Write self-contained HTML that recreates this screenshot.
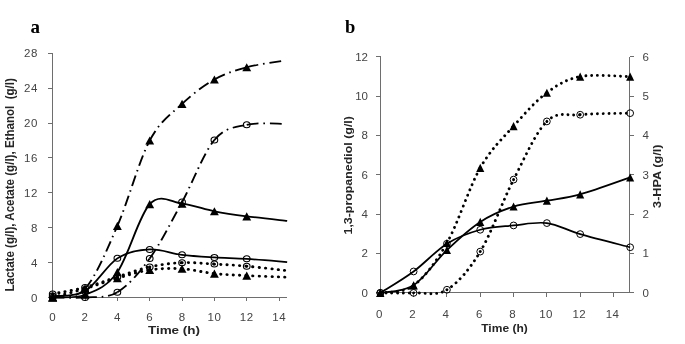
<!DOCTYPE html>
<html><head><meta charset="utf-8"><style>
html,body{margin:0;padding:0;background:#fff;}
body{width:685px;height:344px;overflow:hidden;}
svg{display:block;will-change:transform;}
</style></head><body>
<svg width="685" height="344" viewBox="0 0 685 344">
<rect width="685" height="344" fill="#fff"/>
<g stroke="#6e6e6e" stroke-width="1" fill="none" shape-rendering="crispEdges">
<path d="M52.5 53V297.5H287"/>
<path d="M48 297.5H52.5"/>
<path d="M48 262.5H52.5"/>
<path d="M48 227.5H52.5"/>
<path d="M48 192.5H52.5"/>
<path d="M48 157.5H52.5"/>
<path d="M48 123.5H52.5"/>
<path d="M48 88.5H52.5"/>
<path d="M48 53.5H52.5"/>
<path d="M52.5 297.5V301"/>
<path d="M85.5 297.5V301"/>
<path d="M117.5 297.5V301"/>
<path d="M149.5 297.5V301"/>
<path d="M182.5 297.5V301"/>
<path d="M214.5 297.5V301"/>
<path d="M246.5 297.5V301"/>
<path d="M279.5 297.5V301"/>
</g>
<g stroke="#6e6e6e" stroke-width="1" fill="none" shape-rendering="crispEdges">
<path d="M380.5 56.5V292.5H629.5V56.5"/>
<path d="M376 292.5H380.5"/>
<path d="M376 253.5H380.5"/>
<path d="M376 214.5H380.5"/>
<path d="M376 174.5H380.5"/>
<path d="M376 135.5H380.5"/>
<path d="M376 96.5H380.5"/>
<path d="M376 56.5H380.5"/>
<path d="M629.5 292.5H634"/>
<path d="M629.5 253.5H634"/>
<path d="M629.5 214.5H634"/>
<path d="M629.5 174.5H634"/>
<path d="M629.5 135.5H634"/>
<path d="M629.5 96.5H634"/>
<path d="M629.5 56.5H634"/>
<path d="M380.5 292.5V297"/>
<path d="M413.5 292.5V297"/>
<path d="M446.5 292.5V297"/>
<path d="M480.5 292.5V297"/>
<path d="M513.5 292.5V297"/>
<path d="M546.5 292.5V297"/>
<path d="M580.5 292.5V297"/>
<path d="M613.5 292.5V297"/>
</g>
<g transform="scale(1.0970 1)">
<path d="M48.04 297.40C52.95 295.95 67.69 300.60 77.52 288.68" stroke="#000" stroke-width="1.75" fill="none" stroke-dasharray="10.8 4.4 1.5 4.4"/>
<path d="M77.52 288.68C87.35 276.77 97.17 250.62 107.00 225.92" stroke="#000" stroke-width="1.75" fill="none" stroke-dasharray="10.8 4.4 1.5 4.4"/>
<path d="M107.00 225.92C116.83 201.22 126.65 160.83 136.48 140.49" stroke="#000" stroke-width="1.75" fill="none" stroke-dasharray="10.8 4.4 1.5 4.4"/>
<path d="M136.48 140.49C146.31 120.15 156.13 114.05 165.96 103.88" stroke="#000" stroke-width="1.75" fill="none" stroke-dasharray="10.8 4.4 1.5 4.4"/>
<path d="M165.96 103.88C175.79 93.71 185.62 85.58 195.44 79.47" stroke="#000" stroke-width="1.75" fill="none" stroke-dasharray="10.8 4.4 1.5 4.4"/>
<path d="M195.44 79.47C205.27 73.37 214.11 70.47 224.92 67.27" stroke="#000" stroke-width="1.75" fill="none" stroke-dasharray="10.8 4.4 1.5 4.4"/>
<path d="M224.92 67.27C235.73 64.07 254.40 61.46 260.30 60.30" stroke="#000" stroke-width="1.75" fill="none" stroke-dasharray="10.8 4.4 1.5 4.4"/>
<path d="M48.04 297.40C52.95 297.40 67.69 298.27 77.52 297.40" stroke="#000" stroke-width="1.75" fill="none" stroke-dasharray="10.8 4.4 1.5 4.4"/>
<path d="M77.52 297.40C87.35 296.53 97.17 298.66 107.00 292.17" stroke="#000" stroke-width="1.75" fill="none" stroke-dasharray="10.8 4.4 1.5 4.4"/>
<path d="M107.00 292.17C116.83 285.68 126.65 273.46 136.48 258.44" stroke="#000" stroke-width="1.75" fill="none" stroke-dasharray="10.8 4.4 1.5 4.4"/>
<path d="M136.48 258.44C146.31 243.41 156.13 221.78 165.96 202.04" stroke="#000" stroke-width="1.75" fill="none" stroke-dasharray="10.8 4.4 1.5 4.4"/>
<path d="M165.96 202.04C175.79 182.29 185.62 152.84 195.44 139.97" stroke="#000" stroke-width="1.75" fill="none" stroke-dasharray="10.8 4.4 1.5 4.4"/>
<path d="M195.44 139.97C205.27 127.10 214.11 127.48 224.92 124.80" stroke="#000" stroke-width="1.75" fill="none" stroke-dasharray="10.8 4.4 1.5 4.4"/>
<path d="M224.92 124.80C235.73 122.13 254.40 124.08 260.30 123.93" stroke="#000" stroke-width="1.75" fill="none" stroke-dasharray="10.8 4.4 1.5 4.4"/>
<path d="M48.04 297.40 C52.95 296.96 67.69 299.00 77.52 294.78 C87.35 290.57 97.17 287.23 107.00 272.12 C116.83 257.01 126.65 215.55 136.48 204.13 C146.31 192.71 156.13 202.41 165.96 203.61 C175.79 204.80 185.62 209.15 195.44 211.28 C205.27 213.40 213.87 214.73 224.92 216.33 C235.98 217.93 255.63 220.11 261.77 220.86" stroke="#000" stroke-width="1.75" fill="none"/>
<path d="M48.04 296.09 C52.95 295.29 67.69 297.59 77.52 291.30 C87.35 285.01 97.17 265.32 107.00 258.35 C116.83 251.37 126.65 250.04 136.48 249.46 C146.31 248.88 156.13 253.54 165.96 254.86 C175.79 256.18 185.62 256.72 195.44 257.39 C205.27 258.06 213.87 258.10 224.92 258.87 C235.98 259.64 255.63 261.49 261.77 262.01" stroke="#000" stroke-width="1.75" fill="none"/>
<path d="M48.04 293.91C52.95 292.82 67.69 290.21 77.52 287.38" stroke="#000" stroke-width="2.90" fill="none" stroke-linecap="round" stroke-dasharray="0.01 5.76"/>
<path d="M77.52 287.38C87.35 284.54 97.17 280.33 107.00 276.92" stroke="#000" stroke-width="2.90" fill="none" stroke-linecap="round" stroke-dasharray="0.01 5.76"/>
<path d="M107.00 276.92C116.83 273.50 126.65 269.26 136.48 266.89" stroke="#000" stroke-width="2.90" fill="none" stroke-linecap="round" stroke-dasharray="0.01 5.76"/>
<path d="M136.48 266.89C146.31 264.52 156.13 263.17 165.96 262.71" stroke="#000" stroke-width="2.90" fill="none" stroke-linecap="round" stroke-dasharray="0.01 5.76"/>
<path d="M165.96 262.71C175.79 262.24 185.62 263.52 195.44 264.10" stroke="#000" stroke-width="2.90" fill="none" stroke-linecap="round" stroke-dasharray="0.01 5.76"/>
<path d="M195.44 264.10C205.27 264.68 213.87 265.10 224.92 266.19" stroke="#000" stroke-width="2.90" fill="none" stroke-linecap="round" stroke-dasharray="0.01 5.76"/>
<path d="M224.92 266.19C235.98 267.28 255.63 269.90 261.77 270.64" stroke="#000" stroke-width="2.90" fill="none" stroke-linecap="round" stroke-dasharray="0.01 5.76"/>
<path d="M48.04 297.40C52.95 295.95 67.69 291.88 77.52 288.68" stroke="#000" stroke-width="2.90" fill="none" stroke-linecap="round" stroke-dasharray="0.01 5.76"/>
<path d="M77.52 288.68C87.35 285.49 97.17 281.35 107.00 278.22" stroke="#000" stroke-width="2.90" fill="none" stroke-linecap="round" stroke-dasharray="0.01 5.76"/>
<path d="M107.00 278.22C116.83 275.10 126.65 271.51 136.48 269.94" stroke="#000" stroke-width="2.90" fill="none" stroke-linecap="round" stroke-dasharray="0.01 5.76"/>
<path d="M136.48 269.94C146.31 268.37 156.13 268.20 165.96 268.81" stroke="#000" stroke-width="2.90" fill="none" stroke-linecap="round" stroke-dasharray="0.01 5.76"/>
<path d="M165.96 268.81C175.79 269.42 185.62 272.47 195.44 273.60" stroke="#000" stroke-width="2.90" fill="none" stroke-linecap="round" stroke-dasharray="0.01 5.76"/>
<path d="M195.44 273.60C205.27 274.74 213.87 275.01 224.92 275.61" stroke="#000" stroke-width="2.90" fill="none" stroke-linecap="round" stroke-dasharray="0.01 5.76"/>
<path d="M224.92 275.61C235.98 276.20 255.63 276.92 261.77 277.18" stroke="#000" stroke-width="2.90" fill="none" stroke-linecap="round" stroke-dasharray="0.01 5.76"/>
<path d="M48.04 293.35L52.09 301.45L43.99 301.45Z" fill="#000"/>
<path d="M77.52 284.63L81.57 292.73L73.47 292.73Z" fill="#000"/>
<path d="M107.00 221.87L111.05 229.97L102.95 229.97Z" fill="#000"/>
<path d="M136.48 136.44L140.53 144.54L132.43 144.54Z" fill="#000"/>
<path d="M165.96 99.83L170.01 107.93L161.91 107.93Z" fill="#000"/>
<path d="M195.44 75.42L199.49 83.52L191.39 83.52Z" fill="#000"/>
<path d="M224.92 63.22L228.97 71.32L220.87 71.32Z" fill="#000"/>
<ellipse cx="48.04" cy="297.40" rx="3.05" ry="3.00" fill="none" stroke="#000" stroke-width="1"/>
<ellipse cx="77.52" cy="297.40" rx="3.05" ry="3.00" fill="none" stroke="#000" stroke-width="1"/>
<ellipse cx="107.00" cy="292.17" rx="3.05" ry="3.00" fill="none" stroke="#000" stroke-width="1"/>
<ellipse cx="136.48" cy="258.44" rx="3.05" ry="3.00" fill="none" stroke="#000" stroke-width="1"/>
<ellipse cx="165.96" cy="202.04" rx="3.05" ry="3.00" fill="none" stroke="#000" stroke-width="1"/>
<ellipse cx="195.44" cy="139.97" rx="3.05" ry="3.00" fill="none" stroke="#000" stroke-width="1"/>
<ellipse cx="224.92" cy="124.80" rx="3.05" ry="3.00" fill="none" stroke="#000" stroke-width="1"/>
<path d="M48.04 293.35L52.09 301.45L43.99 301.45Z" fill="#000"/>
<path d="M77.52 290.73L81.57 298.83L73.47 298.83Z" fill="#000"/>
<path d="M107.00 268.07L111.05 276.17L102.95 276.17Z" fill="#000"/>
<path d="M136.48 200.08L140.53 208.18L132.43 208.18Z" fill="#000"/>
<path d="M165.96 199.56L170.01 207.66L161.91 207.66Z" fill="#000"/>
<path d="M195.44 207.23L199.49 215.33L191.39 215.33Z" fill="#000"/>
<path d="M224.92 212.28L228.97 220.38L220.87 220.38Z" fill="#000"/>
<ellipse cx="48.04" cy="296.09" rx="3.05" ry="3.00" fill="none" stroke="#000" stroke-width="1"/>
<ellipse cx="77.52" cy="291.30" rx="3.05" ry="3.00" fill="none" stroke="#000" stroke-width="1"/>
<ellipse cx="107.00" cy="258.35" rx="3.05" ry="3.00" fill="none" stroke="#000" stroke-width="1"/>
<ellipse cx="136.48" cy="249.46" rx="3.05" ry="3.00" fill="none" stroke="#000" stroke-width="1"/>
<ellipse cx="165.96" cy="254.86" rx="3.05" ry="3.00" fill="none" stroke="#000" stroke-width="1"/>
<ellipse cx="195.44" cy="257.39" rx="3.05" ry="3.00" fill="none" stroke="#000" stroke-width="1"/>
<ellipse cx="224.92" cy="258.87" rx="3.05" ry="3.00" fill="none" stroke="#000" stroke-width="1"/>
<ellipse cx="48.04" cy="293.91" rx="3.05" ry="3.00" fill="none" stroke="#000" stroke-width="1"/>
<ellipse cx="77.52" cy="287.38" rx="3.05" ry="3.00" fill="none" stroke="#000" stroke-width="1"/>
<ellipse cx="107.00" cy="276.92" rx="3.05" ry="3.00" fill="none" stroke="#000" stroke-width="1"/>
<ellipse cx="136.48" cy="266.89" rx="3.05" ry="3.00" fill="none" stroke="#000" stroke-width="1"/>
<ellipse cx="165.96" cy="262.71" rx="3.05" ry="3.00" fill="none" stroke="#000" stroke-width="1"/>
<ellipse cx="195.44" cy="264.10" rx="3.05" ry="3.00" fill="none" stroke="#000" stroke-width="1"/>
<ellipse cx="224.92" cy="266.19" rx="3.05" ry="3.00" fill="none" stroke="#000" stroke-width="1"/>
<path d="M48.04 293.35L52.09 301.45L43.99 301.45Z" fill="#000"/>
<path d="M77.52 284.63L81.57 292.73L73.47 292.73Z" fill="#000"/>
<path d="M107.00 274.17L111.05 282.27L102.95 282.27Z" fill="#000"/>
<path d="M136.48 265.89L140.53 273.99L132.43 273.99Z" fill="#000"/>
<path d="M165.96 264.76L170.01 272.86L161.91 272.86Z" fill="#000"/>
<path d="M195.44 269.55L199.49 277.65L191.39 277.65Z" fill="#000"/>
<path d="M224.92 271.56L228.97 279.66L220.87 279.66Z" fill="#000"/>
</g>
<path d="M380.30 292.90C385.85 291.65 402.51 293.75 413.61 285.43" stroke="#000" stroke-width="2.90" fill="none" stroke-linecap="round" stroke-dasharray="0.01 5.76"/>
<path d="M413.61 285.43C424.72 277.10 435.82 262.55 446.93 242.95" stroke="#000" stroke-width="2.90" fill="none" stroke-linecap="round" stroke-dasharray="0.01 5.76"/>
<path d="M446.93 242.95C458.03 223.35 469.14 187.30 480.24 167.83" stroke="#000" stroke-width="2.90" fill="none" stroke-linecap="round" stroke-dasharray="0.01 5.76"/>
<path d="M480.24 167.83C491.35 148.36 502.45 138.66 513.56 126.14" stroke="#000" stroke-width="2.90" fill="none" stroke-linecap="round" stroke-dasharray="0.01 5.76"/>
<path d="M513.56 126.14C524.66 113.62 535.77 100.97 546.87 92.71" stroke="#000" stroke-width="2.90" fill="none" stroke-linecap="round" stroke-dasharray="0.01 5.76"/>
<path d="M546.87 92.71C557.97 84.45 566.30 79.27 580.18 76.58" stroke="#000" stroke-width="2.90" fill="none" stroke-linecap="round" stroke-dasharray="0.01 5.76"/>
<path d="M580.18 76.58C594.06 73.90 621.83 76.58 630.15 76.58" stroke="#000" stroke-width="2.90" fill="none" stroke-linecap="round" stroke-dasharray="0.01 5.76"/>
<path d="M380.30 292.90C385.85 292.90 402.51 293.42 413.61 292.90" stroke="#000" stroke-width="2.90" fill="none" stroke-linecap="round" stroke-dasharray="0.01 5.76"/>
<path d="M413.61 292.90C424.72 292.38 435.82 296.64 446.93 289.75" stroke="#000" stroke-width="2.90" fill="none" stroke-linecap="round" stroke-dasharray="0.01 5.76"/>
<path d="M446.93 289.75C458.03 282.87 469.14 269.96 480.24 251.60" stroke="#000" stroke-width="2.90" fill="none" stroke-linecap="round" stroke-dasharray="0.01 5.76"/>
<path d="M480.24 251.60C491.35 233.25 502.45 201.33 513.56 179.63" stroke="#000" stroke-width="2.90" fill="none" stroke-linecap="round" stroke-dasharray="0.01 5.76"/>
<path d="M513.56 179.63C524.66 157.93 535.77 132.24 546.87 121.42" stroke="#000" stroke-width="2.90" fill="none" stroke-linecap="round" stroke-dasharray="0.01 5.76"/>
<path d="M546.87 121.42C557.97 110.61 566.30 116.11 580.18 114.74" stroke="#000" stroke-width="2.90" fill="none" stroke-linecap="round" stroke-dasharray="0.01 5.76"/>
<path d="M580.18 114.74C594.06 113.36 621.83 113.42 630.15 113.16" stroke="#000" stroke-width="2.90" fill="none" stroke-linecap="round" stroke-dasharray="0.01 5.76"/>
<path d="M380.30 292.90 C385.85 291.62 402.51 292.38 413.61 285.23 C424.72 278.08 435.82 260.58 446.93 250.03 C458.03 239.47 469.14 229.15 480.24 221.90 C491.35 214.66 502.45 210.10 513.56 206.56 C524.66 203.02 535.77 202.69 546.87 200.66 C557.97 198.63 566.30 198.24 580.18 194.37 C594.06 190.50 621.83 180.27 630.15 177.45" stroke="#000" stroke-width="1.75" fill="none"/>
<path d="M380.30 292.90 C385.85 289.33 402.51 279.66 413.61 271.46 C424.72 263.27 435.82 250.68 446.93 243.73 C458.03 236.78 469.14 232.82 480.24 229.77 C491.35 226.72 502.45 226.56 513.56 225.44 C524.66 224.33 535.77 221.64 546.87 223.08 C557.97 224.52 566.30 230.06 580.18 234.10 C594.06 238.13 621.83 245.08 630.15 247.27" stroke="#000" stroke-width="1.75" fill="none"/>
<path d="M380.30 288.85L384.35 296.95L376.25 296.95Z" fill="#000"/>
<path d="M413.61 281.38L417.66 289.48L409.56 289.48Z" fill="#000"/>
<path d="M446.93 238.90L450.98 247.00L442.88 247.00Z" fill="#000"/>
<path d="M480.24 163.78L484.29 171.88L476.19 171.88Z" fill="#000"/>
<path d="M513.56 122.09L517.61 130.19L509.51 130.19Z" fill="#000"/>
<path d="M546.87 88.66L550.92 96.76L542.82 96.76Z" fill="#000"/>
<path d="M580.18 72.53L584.23 80.63L576.13 80.63Z" fill="#000"/>
<path d="M630.15 72.53L634.20 80.63L626.11 80.63Z" fill="#000"/>
<ellipse cx="380.30" cy="292.90" rx="3.40" ry="3.40" fill="none" stroke="#000" stroke-width="1"/>
<ellipse cx="413.61" cy="292.90" rx="3.40" ry="3.40" fill="none" stroke="#000" stroke-width="1"/>
<ellipse cx="446.93" cy="289.75" rx="3.40" ry="3.40" fill="none" stroke="#000" stroke-width="1"/>
<ellipse cx="480.24" cy="251.60" rx="3.40" ry="3.40" fill="none" stroke="#000" stroke-width="1"/>
<ellipse cx="513.56" cy="179.63" rx="3.40" ry="3.40" fill="none" stroke="#000" stroke-width="1"/>
<ellipse cx="546.87" cy="121.42" rx="3.40" ry="3.40" fill="none" stroke="#000" stroke-width="1"/>
<ellipse cx="580.18" cy="114.74" rx="3.40" ry="3.40" fill="none" stroke="#000" stroke-width="1"/>
<ellipse cx="630.15" cy="113.16" rx="3.40" ry="3.40" fill="none" stroke="#000" stroke-width="1"/>
<path d="M380.30 288.85L384.35 296.95L376.25 296.95Z" fill="#000"/>
<path d="M413.61 281.18L417.66 289.28L409.56 289.28Z" fill="#000"/>
<path d="M446.93 245.98L450.98 254.08L442.88 254.08Z" fill="#000"/>
<path d="M480.24 217.85L484.29 225.95L476.19 225.95Z" fill="#000"/>
<path d="M513.56 202.51L517.61 210.61L509.51 210.61Z" fill="#000"/>
<path d="M546.87 196.61L550.92 204.71L542.82 204.71Z" fill="#000"/>
<path d="M580.18 190.32L584.23 198.42L576.13 198.42Z" fill="#000"/>
<path d="M630.15 173.40L634.20 181.50L626.11 181.50Z" fill="#000"/>
<ellipse cx="380.30" cy="292.90" rx="3.40" ry="3.40" fill="none" stroke="#000" stroke-width="1"/>
<ellipse cx="413.61" cy="271.46" rx="3.40" ry="3.40" fill="none" stroke="#000" stroke-width="1"/>
<ellipse cx="446.93" cy="243.73" rx="3.40" ry="3.40" fill="none" stroke="#000" stroke-width="1"/>
<ellipse cx="480.24" cy="229.77" rx="3.40" ry="3.40" fill="none" stroke="#000" stroke-width="1"/>
<ellipse cx="513.56" cy="225.44" rx="3.40" ry="3.40" fill="none" stroke="#000" stroke-width="1"/>
<ellipse cx="546.87" cy="223.08" rx="3.40" ry="3.40" fill="none" stroke="#000" stroke-width="1"/>
<ellipse cx="580.18" cy="234.10" rx="3.40" ry="3.40" fill="none" stroke="#000" stroke-width="1"/>
<ellipse cx="630.15" cy="247.27" rx="3.40" ry="3.40" fill="none" stroke="#000" stroke-width="1"/>
<text x="37.9" y="301.5" text-anchor="end" font-family="Liberation Sans" font-size="11.5" fill="#444" letter-spacing="0.6">0</text>
<text x="37.9" y="266.6" text-anchor="end" font-family="Liberation Sans" font-size="11.5" fill="#444" letter-spacing="0.6">4</text>
<text x="37.9" y="231.8" text-anchor="end" font-family="Liberation Sans" font-size="11.5" fill="#444" letter-spacing="0.6">8</text>
<text x="37.9" y="196.9" text-anchor="end" font-family="Liberation Sans" font-size="11.5" fill="#444" letter-spacing="0.6">12</text>
<text x="37.9" y="162.0" text-anchor="end" font-family="Liberation Sans" font-size="11.5" fill="#444" letter-spacing="0.6">16</text>
<text x="37.9" y="127.2" text-anchor="end" font-family="Liberation Sans" font-size="11.5" fill="#444" letter-spacing="0.6">20</text>
<text x="37.9" y="92.3" text-anchor="end" font-family="Liberation Sans" font-size="11.5" fill="#444" letter-spacing="0.6">24</text>
<text x="37.9" y="57.4" text-anchor="end" font-family="Liberation Sans" font-size="11.5" fill="#444" letter-spacing="0.6">28</text>
<text x="52.8" y="320.9" text-anchor="middle" font-family="Liberation Sans" font-size="11.5" fill="#444" letter-spacing="0.6">0</text>
<text x="85.1" y="320.9" text-anchor="middle" font-family="Liberation Sans" font-size="11.5" fill="#444" letter-spacing="0.6">2</text>
<text x="117.5" y="320.9" text-anchor="middle" font-family="Liberation Sans" font-size="11.5" fill="#444" letter-spacing="0.6">4</text>
<text x="149.8" y="320.9" text-anchor="middle" font-family="Liberation Sans" font-size="11.5" fill="#444" letter-spacing="0.6">6</text>
<text x="182.2" y="320.9" text-anchor="middle" font-family="Liberation Sans" font-size="11.5" fill="#444" letter-spacing="0.6">8</text>
<text x="214.5" y="320.9" text-anchor="middle" font-family="Liberation Sans" font-size="11.5" fill="#444" letter-spacing="0.6">10</text>
<text x="246.8" y="320.9" text-anchor="middle" font-family="Liberation Sans" font-size="11.5" fill="#444" letter-spacing="0.6">12</text>
<text x="279.2" y="320.9" text-anchor="middle" font-family="Liberation Sans" font-size="11.5" fill="#444" letter-spacing="0.6">14</text>
<text x="368.0" y="296.6" text-anchor="end" font-family="Liberation Sans" font-size="11.5" fill="#444">0</text>
<text x="368.0" y="257.3" text-anchor="end" font-family="Liberation Sans" font-size="11.5" fill="#444">2</text>
<text x="368.0" y="217.9" text-anchor="end" font-family="Liberation Sans" font-size="11.5" fill="#444">4</text>
<text x="368.0" y="178.6" text-anchor="end" font-family="Liberation Sans" font-size="11.5" fill="#444">6</text>
<text x="368.0" y="139.3" text-anchor="end" font-family="Liberation Sans" font-size="11.5" fill="#444">8</text>
<text x="368.0" y="99.9" text-anchor="end" font-family="Liberation Sans" font-size="11.5" fill="#444">10</text>
<text x="368.0" y="60.6" text-anchor="end" font-family="Liberation Sans" font-size="11.5" fill="#444">12</text>
<text x="642.4" y="296.7" font-family="Liberation Sans" font-size="11.5" fill="#444">0</text>
<text x="642.4" y="257.4" font-family="Liberation Sans" font-size="11.5" fill="#444">1</text>
<text x="642.4" y="218.0" font-family="Liberation Sans" font-size="11.5" fill="#444">2</text>
<text x="642.4" y="178.7" font-family="Liberation Sans" font-size="11.5" fill="#444">3</text>
<text x="642.4" y="139.4" font-family="Liberation Sans" font-size="11.5" fill="#444">4</text>
<text x="642.4" y="100.0" font-family="Liberation Sans" font-size="11.5" fill="#444">5</text>
<text x="642.4" y="60.7" font-family="Liberation Sans" font-size="11.5" fill="#444">6</text>
<text x="379.4" y="317.6" text-anchor="middle" font-family="Liberation Sans" font-size="11.5" fill="#444" letter-spacing="0.4">0</text>
<text x="412.7" y="317.6" text-anchor="middle" font-family="Liberation Sans" font-size="11.5" fill="#444" letter-spacing="0.4">2</text>
<text x="446.0" y="317.6" text-anchor="middle" font-family="Liberation Sans" font-size="11.5" fill="#444" letter-spacing="0.4">4</text>
<text x="479.3" y="317.6" text-anchor="middle" font-family="Liberation Sans" font-size="11.5" fill="#444" letter-spacing="0.4">6</text>
<text x="512.7" y="317.6" text-anchor="middle" font-family="Liberation Sans" font-size="11.5" fill="#444" letter-spacing="0.4">8</text>
<text x="546.0" y="317.6" text-anchor="middle" font-family="Liberation Sans" font-size="11.5" fill="#444" letter-spacing="0.4">10</text>
<text x="579.3" y="317.6" text-anchor="middle" font-family="Liberation Sans" font-size="11.5" fill="#444" letter-spacing="0.4">12</text>
<text x="612.6" y="317.6" text-anchor="middle" font-family="Liberation Sans" font-size="11.5" fill="#444" letter-spacing="0.4">14</text>
<text x="174" y="334" text-anchor="middle" font-family="Liberation Sans" font-weight="bold" font-size="11" fill="#262626" textLength="52.2" lengthAdjust="spacingAndGlyphs">Time (h)</text>
<text x="504.5" y="332" text-anchor="middle" font-family="Liberation Sans" font-weight="bold" font-size="11" fill="#262626" textLength="46.5" lengthAdjust="spacingAndGlyphs">Time (h)</text>
<text transform="translate(14.4 291.6) rotate(-90)" font-family="Liberation Sans" font-weight="bold"  fill="#262626" textLength="213.5" lengthAdjust="spacingAndGlyphs" font-size="12.3">Lactate (g/l), Acetate (g/l), Ethanol&#160; (g/l)</text>
<text transform="translate(351.9 234.5) rotate(-90)" font-family="Liberation Sans" font-weight="bold" font-size="11" fill="#262626" textLength="118.4" lengthAdjust="spacingAndGlyphs">1,3-propanediol (g/l)</text>
<text transform="translate(660.8 207.9) rotate(-90)" font-family="Liberation Sans" font-weight="bold" font-size="11" fill="#262626" textLength="63.3" lengthAdjust="spacingAndGlyphs">3-HPA (g/l)</text>
<text x="30.6" y="32.8" font-family="Liberation Serif" font-weight="bold" font-size="19" fill="#000">a</text>
<text x="345" y="32.7" font-family="Liberation Serif" font-weight="bold" font-size="18.5" fill="#000">b</text>
</svg>
</body></html>
